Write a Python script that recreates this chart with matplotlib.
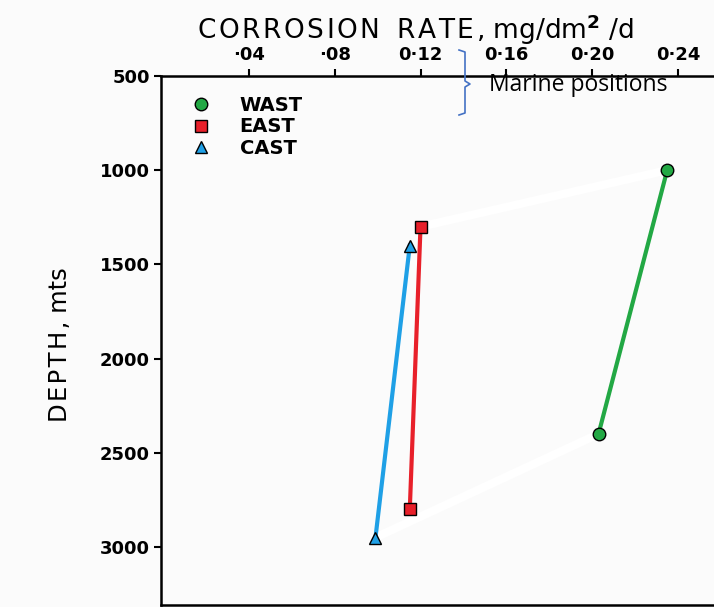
import matplotlib
matplotlib.use("Agg")
import matplotlib.pyplot as plt
from matplotlib.lines import Line2D

# depth profiles, corrosion rate (mg/dm2/d) vs depth (m)
wast_rate = [0.235, 0.203]
wast_depth = [1000, 2400]
east_rate = [0.120, 0.115]
east_depth = [1300, 2800]
cast_rate = [0.115, 0.099]
cast_depth = [1400, 2950]

x_ticks = [0.04, 0.08, 0.12, 0.16, 0.20, 0.24]
x_ticklabels = ["\u00b704", "\u00b708", "0\u00b712", "0\u00b716", "0\u00b720", "0\u00b724"]
y_ticks = [500, 1000, 1500, 2000, 2500, 3000]

green = "#22a844"
red = "#e8202a"
blue = "#1fa0e6"


def spaced(s, sep="\u200a"):
    # small gaps between letters, the old drawing has wide lettering
    return sep.join(s)


fig = plt.figure(figsize=(7.14, 6.07), dpi=100, facecolor="#fbfbfb")
ax = fig.add_axes([161 / 714, 2 / 607, 1 - 161 / 714 + 0.002, (605 - 76) / 607])
ax.set_facecolor("#fbfbfb")

# faint white joins between the stations
ax.plot([east_rate[0], wast_rate[0]], [east_depth[0], wast_depth[0]], color="white", lw=6, zorder=1)
ax.plot([cast_rate[1], wast_rate[1]], [cast_depth[1], wast_depth[1]], color="white", lw=6, zorder=1)

ax.plot(wast_rate, wast_depth, color=green, lw=3, marker="o", ms=9,
        mfc=green, mec="black", mew=1, zorder=3, label="WAST")
ax.plot(east_rate, east_depth, color=red, lw=3, marker="s", ms=8,
        mfc=red, mec="black", mew=1, zorder=3, label="EAST")
ax.plot(cast_rate, cast_depth, color=blue, lw=3, marker="^", ms=8,
        mfc=blue, mec="black", mew=1, zorder=3, label="CAST")

ax.set_xlim(-0.001, 0.2575)
ax.set_ylim(3308, 500)

ax.xaxis.tick_top()
ax.set_xticks(x_ticks)
ax.set_xticklabels(x_ticklabels)
ax.set_yticks(y_ticks)
ax.tick_params(axis="both", direction="out", length=5, width=1.5, color="black",
               labelsize=13, pad=3)
ax.tick_params(axis="x", pad=4)
for lab in ax.get_xticklabels() + ax.get_yticklabels():
    lab.set_fontweight("bold")

for side in ["left", "top", "bottom"]:
    ax.spines[side].set_linewidth(1.8)
ax.spines["right"].set_visible(False)

handles = [
    Line2D([], [], ls="none", marker="o", ms=9, mfc=green, mec="black", mew=1),
    Line2D([], [], ls="none", marker="s", ms=8, mfc=red, mec="black", mew=1),
    Line2D([], [], ls="none", marker="^", ms=8, mfc=blue, mec="black", mew=1),
]
leg = ax.legend(handles, ["WAST", "EAST", "CAST"], loc="upper left",
                bbox_to_anchor=(0.005, 0.995), frameon=False, handletextpad=1.0,
                labelspacing=0.12, prop={"weight": "bold", "size": 14})

fig.text(416 / 714, 1 - 30 / 607,
         spaced("CORROSION") + "  " + spaced("RATE,") + " mg/dm$^\\mathbf{2}$ /d",
         ha="center", va="center", fontsize=19)
fig.text(60 / 714, 1 - 345 / 607, spaced("DEPTH,") + " mts", rotation=90,
         ha="center", va="center", fontsize=17.5)

# bracket annotation
bx = [459, 465, 465, 470, 465, 465, 459]
by = [50, 52, 81, 84, 87, 113, 115]
fig.add_artist(Line2D([v / 714 for v in bx], [1 - v / 607 for v in by],
                      color="#4472c4", lw=1.2, transform=fig.transFigure))
fig.text(489 / 714, 1 - 85 / 607, "Marine positions", ha="left", va="center",
         fontsize=16.5, family="Open Sans")

fig.savefig("out.png", dpi=100, facecolor=fig.get_facecolor())
